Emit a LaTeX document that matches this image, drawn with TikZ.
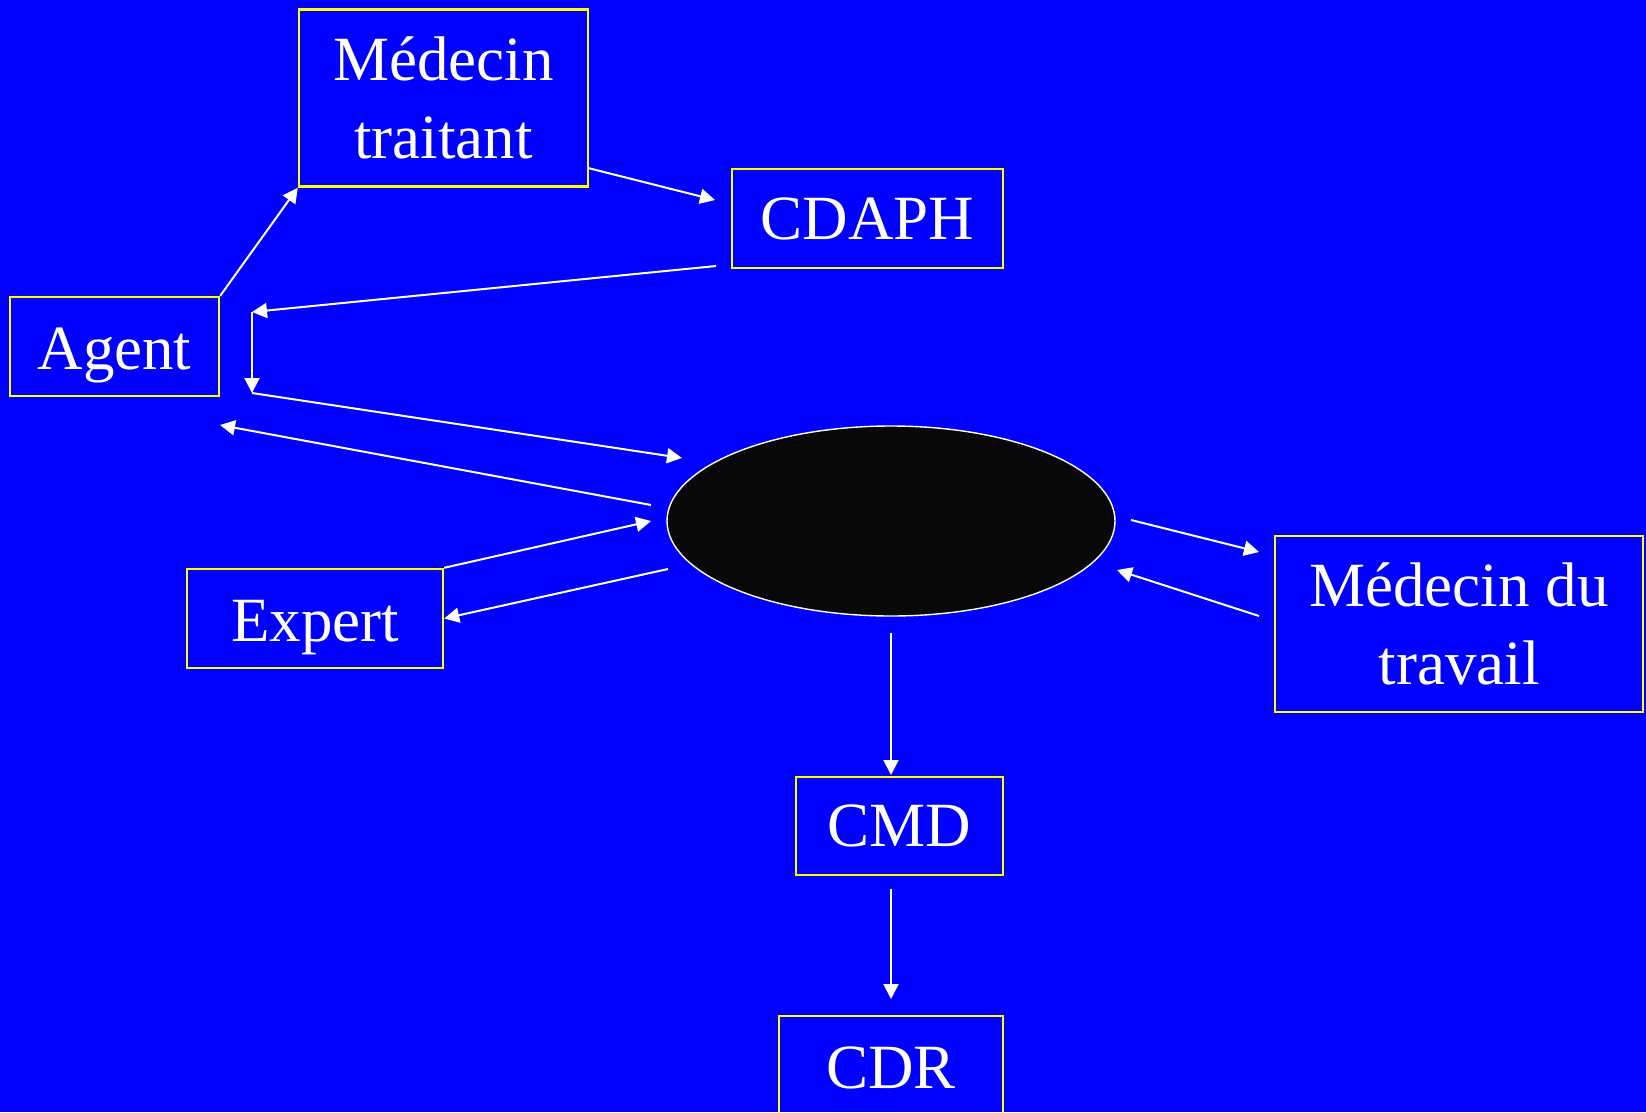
\documentclass[tikz,border=0pt]{standalone}
\usepackage{fontspec}
\setmainfont{Liberation Serif}
\usetikzlibrary{arrows.meta,shapes.geometric}
\definecolor{slideblue}{RGB}{0,0,255}
\definecolor{boxyellow}{RGB}{255,255,0}
\tikzset{
  box/.style={draw=boxyellow, line width=2.4pt, text=white, align=center,
    inner sep=0pt, font=\fontsize{63}{78}\selectfont},
  lowtext/.style={text height=60pt, text depth=14pt},
  link/.style={draw=white, line width=2pt, -{Triangle[length=15pt,width=15pt]}},
}
\begin{document}
\begin{tikzpicture}[x=1pt,y=-1pt]
\fill[slideblue] (0,0) rectangle (1646,1112);
\useasboundingbox (0,0) rectangle (1646,1112);
\clip (0,0) rectangle (1646,1112);

% boxes
\node[box, minimum width=289pt, minimum height=177pt] (medt) at (443.5,98) {Médecin\\traitant};
\node[box, minimum width=271pt, minimum height=99pt] (cdaph) at (867.5,218.5) {CDAPH};
\node[box, lowtext, minimum width=209pt, minimum height=99pt] (agent) at (114.5,346.5) {Agent};
\node[box, lowtext, minimum width=256pt, minimum height=99pt] (expert) at (315,618.5) {Expert};
\node[box, minimum width=368pt, minimum height=176pt] (medtrav) at (1459,624) {Médecin du\\travail};
\node[box, minimum width=207pt, minimum height=98pt] (cmd) at (899.5,826) {CMD};
\node[box, minimum width=224pt, minimum height=104pt] (cdr) at (891,1068) {CDR};
\node[ellipse, draw=white, line width=1.4pt, fill=black!97, minimum width=448pt,
  minimum height=190pt] (cnr) at (891,521) {};

% free ends of the connectors
\coordinate (medtout) at (588,168);
\coordinate (cdaphin) at (715,200);
\coordinate (cdaphout) at (716,266);
\coordinate (bendtop) at (252,312);
\coordinate (bendbot) at (252,393);
\coordinate (cnrin) at (682,458);
\coordinate (cnrout) at (651,505);
\coordinate (agentin) at (220,425);
\coordinate (cnrexp) at (651,521);
\coordinate (cnrexpout) at (668,569);
\coordinate (cnrright) at (1131,520);
\coordinate (travin) at (1259,552);
\coordinate (travout) at (1259,616);
\coordinate (cnrrightin) at (1117,570);
\coordinate (cnrbot) at (891,633);
\coordinate (cmdin) at (891,775);
\coordinate (cmdout) at (891,889);
\coordinate (cdrin) at (891,999);

% connectors
\draw[link] (agent.north east) -- (medt.south west);
\draw[link] (medtout) -- (cdaphin);
\draw[link] (cdaphout) -- (bendtop);
\draw[link] (bendtop) -- (bendbot);
\draw[link] (bendbot) -- (cnrin);
\draw[link] (cnrout) -- (agentin);
\draw[link] (expert.north east) -- (cnrexp);
\draw[link] (cnrexpout) -- (expert.east);
\draw[link] (cnrright) -- (travin);
\draw[link] (travout) -- (cnrrightin);
\draw[link] (cnrbot) -- (cmdin);
\draw[link] (cmdout) -- (cdrin);
\end{tikzpicture}
\end{document}
